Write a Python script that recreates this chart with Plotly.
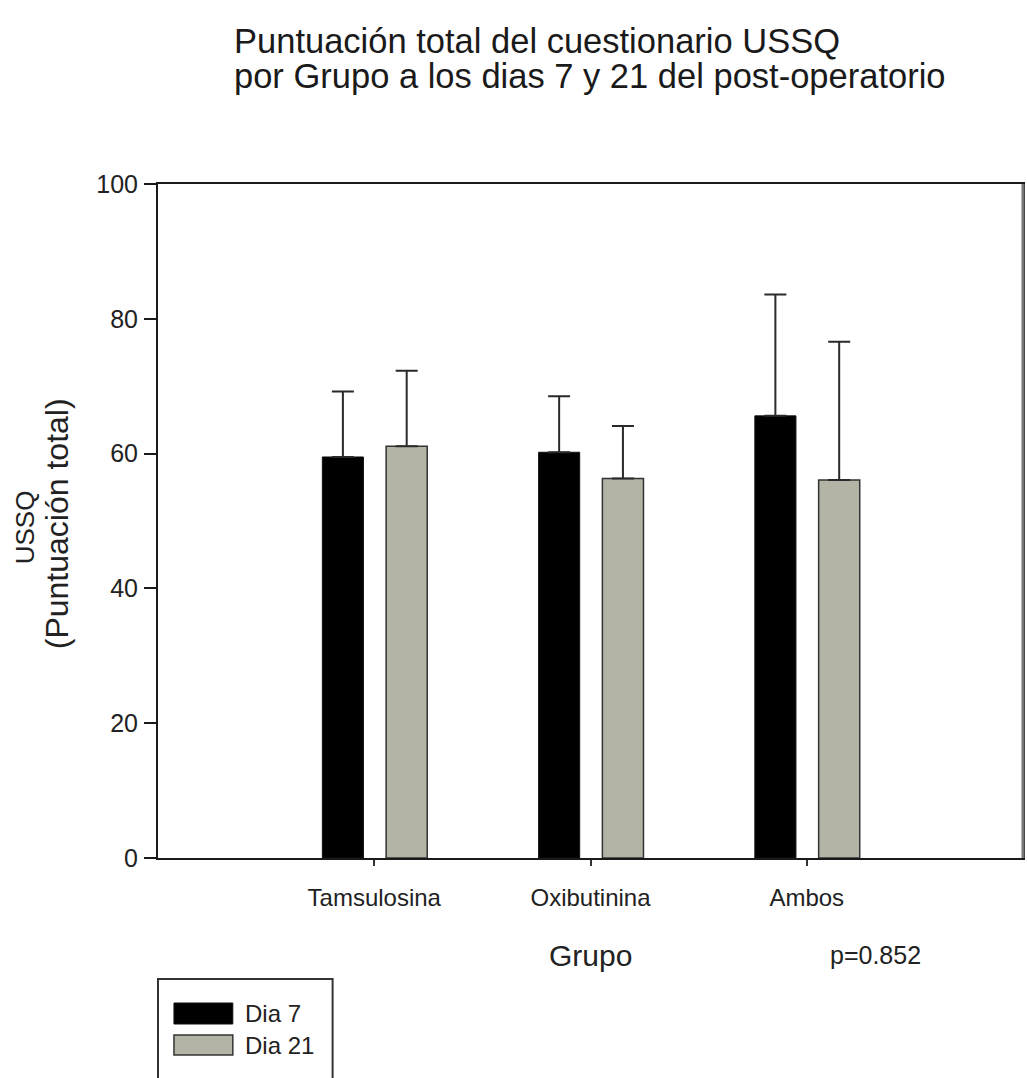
import plotly.graph_objects as go

# Data
grupos = ["Tamsulosina", "Oxibutinina", "Ambos"]
dia7_media = [59.5, 60.2, 65.6]
dia7_de = [9.7, 8.3, 18.0]
dia21_media = [61.1, 56.3, 56.1]
dia21_de = [11.2, 7.8, 20.5]
yticks = [0, 20, 40, 60, 80, 100]
p_valor = "p=0.852"

W, H = 1027, 1078
ML, MR, MT, MB = 158, 2, 184, 220
PW, PH = W - ML - MR, H - MT - MB


def px_x(px):
    return (px - ML) / PW


def px_y(py):
    return (H - MB - py) / PH


FONT = "Liberation Sans, Arial, sans-serif"
GRIS = "#b3b4a6"
xpos = list(range(len(grupos)))

fig = go.Figure()
fig.add_trace(go.Bar(
    x=xpos, y=dia7_media, name="Dia 7",
    offset=-0.24, width=0.19,
    marker=dict(color="#000000", line=dict(color="#111111", width=1)),
    error_y=dict(type="data", symmetric=False, array=dia7_de,
                 arrayminus=[0] * len(grupos), color="#2a2a2a",
                 thickness=2, width=11),
))
fig.add_trace(go.Bar(
    x=xpos, y=dia21_media, name="Dia 21",
    offset=0.055, width=0.19,
    marker=dict(color=GRIS, line=dict(color="#333333", width=1.5)),
    error_y=dict(type="data", symmetric=False, array=dia21_de,
                 arrayminus=[0] * len(grupos), color="#2a2a2a",
                 thickness=2, width=11),
))

fig.update_layout(
    width=W, height=H,
    margin=dict(l=ML, r=MR, t=MT, b=MB),
    paper_bgcolor="white", plot_bgcolor="white",
    barmode="overlay", showlegend=False,
    font=dict(family=FONT, color="#222222"),
)
fig.update_xaxes(
    range=[-1, 3], tickvals=xpos, ticktext=grupos,
    ticks="outside", ticklen=6, tickwidth=1.5, tickcolor="#333333",
    ticklabelstandoff=11,
    showline=True, linecolor="#1a1a1a", linewidth=2, mirror=True,
    showgrid=False, zeroline=False,
    tickfont=dict(size=24, family=FONT, color="#222222"),
)
fig.update_yaxes(
    range=[0, 100], tickvals=yticks,
    ticks="outside", ticklen=12, tickwidth=2, tickcolor="#1a1a1a",
    ticklabelstandoff=1,
    showline=True, linecolor="#1a1a1a", linewidth=2, mirror=True,
    showgrid=False, zeroline=False,
    tickfont=dict(size=25, family=FONT, color="#222222"),
)

ann = [
    dict(text="Puntuación total del cuestionario USSQ", x=px_x(232),
         y=px_y(41), xanchor="left", font=dict(size=34.5, color="#1a1a1a")),
    dict(text="por Grupo a los dias 7 y 21 del post-operatorio", x=px_x(232),
         y=px_y(76), xanchor="left", font=dict(size=34.5, color="#1a1a1a")),
    dict(text="USSQ", x=px_x(25), y=px_y(527), textangle=-90,
         font=dict(size=26)),
    dict(text="(Puntuación total)", x=px_x(57), y=px_y(524), textangle=-90,
         font=dict(size=32)),
    dict(text="Grupo", x=px_x(591), y=px_y(955), font=dict(size=30)),
    dict(text=p_valor, x=px_x(877), y=px_y(955), font=dict(size=25)),
    dict(text="Dia 7", x=px_x(243), y=px_y(1013), xanchor="left",
         font=dict(size=24)),
    dict(text="Dia 21", x=px_x(243), y=px_y(1045), xanchor="left",
         font=dict(size=24)),
]
for a in ann:
    a.update(xref="paper", yref="paper", showarrow=False)
    a.setdefault("xanchor", "center")
    a["yanchor"] = "middle"
fig.update_layout(annotations=ann)

# Right frame edge, legend box and swatches
shapes = [
    dict(type="line", x0=1, x1=1, y0=0, y1=1,
         line=dict(color="#777777", width=3)),
    dict(type="rect", x0=px_x(158), x1=px_x(333), y0=px_y(979), y1=px_y(1090),
         line=dict(color="#333333", width=2), fillcolor="white"),
    dict(type="rect", x0=px_x(174), x1=px_x(233), y0=px_y(1003), y1=px_y(1024),
         line=dict(color="#111111", width=1), fillcolor="#000000"),
    dict(type="rect", x0=px_x(174), x1=px_x(233), y0=px_y(1035), y1=px_y(1055),
         line=dict(color="#333333", width=1.5), fillcolor=GRIS),
]
for s in shapes:
    s.update(xref="paper", yref="paper", layer="above")
fig.update_layout(shapes=shapes)

fig.write_html("out.html")
